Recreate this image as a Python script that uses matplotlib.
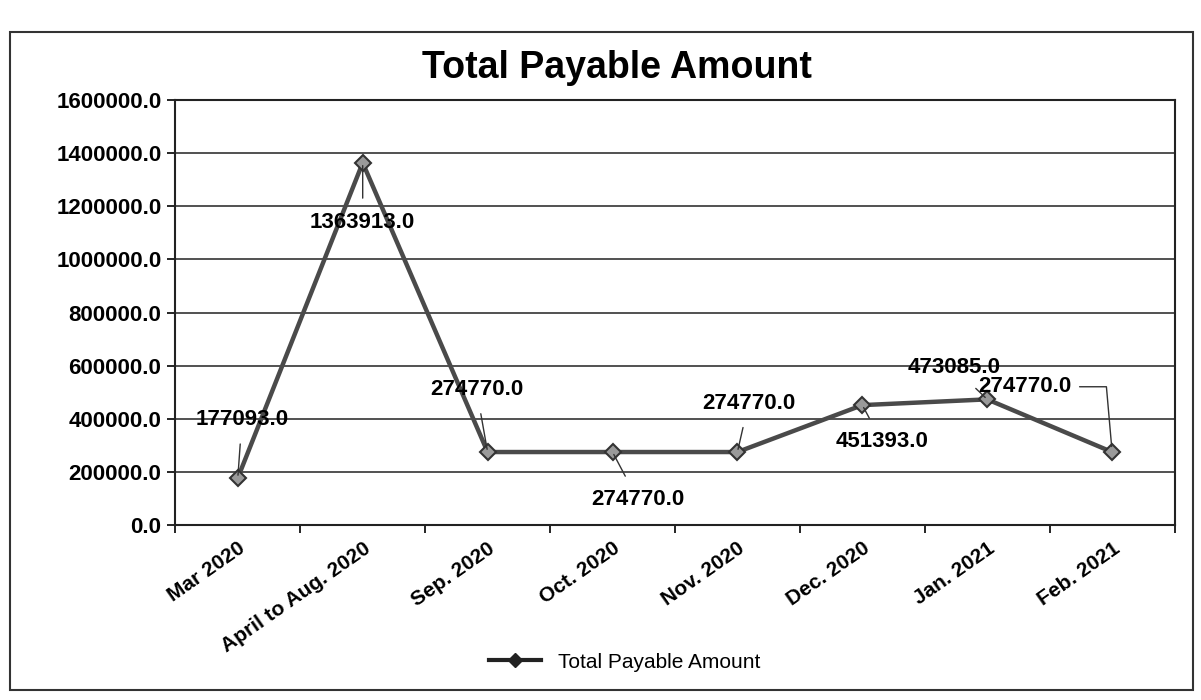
import matplotlib
matplotlib.use("Agg")
import matplotlib.pyplot as plt
from matplotlib.patches import Rectangle
from matplotlib.lines import Line2D

categories = ["Mar 2020", "April to Aug. 2020", "Sep. 2020", "Oct. 2020",
              "Nov. 2020", "Dec. 2020", "Jan. 2021", "Feb. 2021"]
values = [177093.0, 1363913.0, 274770.0, 274770.0, 274770.0, 451393.0, 473085.0, 274770.0]
yticks = [0, 200000, 400000, 600000, 800000, 1000000, 1200000, 1400000, 1600000]
series_name = "Total Payable Amount"

plt.rcParams['font.family'] = ['Liberation Sans', 'DejaVu Sans']

fig = plt.figure(figsize=(12.01, 7.0), dpi=100)
fig.patch.set_facecolor('white')
ax = fig.add_axes([0.146, 0.25, 0.832, 0.607])

x = list(range(len(categories)))
ax.plot(x, values, color='#4a4a4a', lw=3.2, marker='D', markersize=8,
        markerfacecolor='#9a9a9a', markeredgecolor='#333333', markeredgewidth=1.5, zorder=3)

ax.set_xlim(-0.5, len(categories) - 0.5)
ax.set_ylim(0, 1600000)
ax.set_yticks(yticks)
ax.set_yticklabels([f"{v:.1f}" for v in yticks], fontsize=16, fontweight='bold')
ax.yaxis.grid(True, color='#333333', lw=1.2)
ax.set_axisbelow(True)

ax.set_xticks(x)
ax.set_xticklabels(categories, rotation=35, ha='right', rotation_mode='anchor',
                   fontsize=15, fontweight='bold')
ax.tick_params(axis='x', length=0, pad=10)
ax.set_xticks([i + 0.5 for i in range(-1, len(categories))], minor=True)
ax.tick_params(axis='x', which='minor', length=6, width=1.2, direction='out')
ax.tick_params(axis='y', length=6, width=1.2, direction='out', pad=4)
for s in ax.spines.values():
    s.set_color('#222222')
    s.set_linewidth(1.5)

fig.text(0.514, 0.903, "Total Payable Amount", fontsize=27, fontweight='bold',
         ha='center', va='center')

# data labels (offsets in points)
offsets = [(3, 42), (0, -43), (-8, 45), (18, -34), (8, 35), (14, -26), (-24, 23), (-63, 47)]
for i, (xi, v, (dx, dy)) in enumerate(zip(x, values, offsets)):
    if i == len(values) - 1:
        ax.annotate(f"{v:.1f}", xy=(xi, v), xytext=(dx, dy), textcoords='offset points',
                    ha='center', va='center', fontsize=16, fontweight='bold',
                    arrowprops=dict(arrowstyle='-', color='#333333', lw=1.0,
                                    shrinkA=4, shrinkB=4,
                                    connectionstyle="angle,angleA=0,angleB=95,rad=0"))
    else:
        ax.annotate(f"{v:.1f}", xy=(xi, v), xytext=(dx, dy), textcoords='offset points',
                    ha='center', va='center', fontsize=16, fontweight='bold',
                    arrowprops=dict(arrowstyle='-', color='#333333', lw=1.0,
                                    shrinkA=8, shrinkB=2))

handle = Line2D([], [], color='#222222', lw=3, marker='D', markersize=7,
                markerfacecolor='#222222')
fig.legend([handle], [series_name], loc='center', bbox_to_anchor=(0.52, 0.054),
           frameon=False, fontsize=15, handlelength=2.5)

fig.patches.append(Rectangle((0.008, 0.015), 0.985, 0.94, transform=fig.transFigure,
                             fill=False, edgecolor='#333333', lw=1.5))

fig.savefig("out.png", dpi=100)
